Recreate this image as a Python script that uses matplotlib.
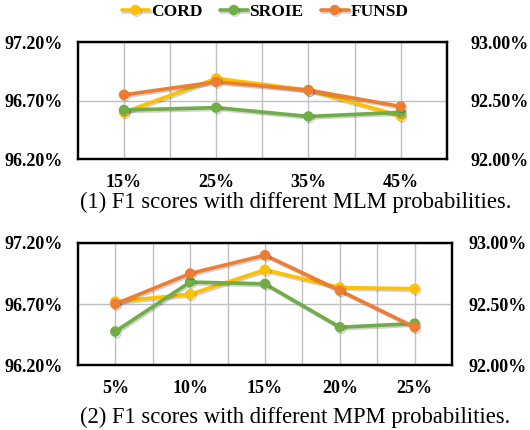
import matplotlib
matplotlib.use("Agg")
import matplotlib.pyplot as plt
import matplotlib.patheffects as pe
from matplotlib.ticker import FuncFormatter, FixedLocator

# data
mlm_labels = ["15%", "25%", "35%", "45%"]
mlm_cord = [96.60, 96.89, 96.79, 96.57]
mlm_sroie = [96.62, 96.64, 96.565, 96.60]
mlm_funsd = [92.55, 92.66, 92.59, 92.45]

mpm_labels = ["5%", "10%", "15%", "20%", "25%"]
mpm_cord = [96.72, 96.78, 96.98, 96.835, 96.825]
mpm_sroie = [96.475, 96.88, 96.865, 96.51, 96.54]
mpm_funsd = [92.50, 92.75, 92.90, 92.61, 92.31]

left_ticks = [96.2, 96.7, 97.2]
right_ticks = [92.0, 92.5, 93.0]

captions = ["(1) F1 scores with different MLM probabilities.",
            "(2) F1 scores with different MPM probabilities."]

C_CORD = "#FFC000"
C_SROIE = "#70AD47"
C_FUNSD = "#ED7D31"

plt.rcParams["font.family"] = ["Liberation Serif", "DejaVu Serif"]

fig = plt.figure(figsize=(5.3, 4.3), dpi=100)

pct = FuncFormatter(lambda v, p: "%.2f%%" % v)
shadow = [pe.SimpleLineShadow(offset=(1, -1.2), alpha=0.18), pe.Normal()]


def panel(rect, labels, cord, sroie, funsd, rpad):
    ax = fig.add_axes(rect)
    x = list(range(len(labels)))
    lstyle = dict(lw=2.6, marker="o", ms=6.5, solid_capstyle="round",
                  path_effects=shadow)
    l1, = ax.plot(x, cord, color=C_CORD, label="CORD", **lstyle)
    l2, = ax.plot(x, sroie, color=C_SROIE, label="SROIE", **lstyle)
    ax.set_xlim(-0.5, len(labels) - 0.5)
    ax.set_ylim(left_ticks[0], left_ticks[-1])
    ax.yaxis.set_major_locator(FixedLocator(left_ticks))
    ax.yaxis.set_major_formatter(pct)
    ax.set_xticks(x)
    ax.set_xticklabels(labels)
    ax.set_xticks([i + 0.5 for i in x[:-1]], minor=True)
    ax.grid(True, which="both", color="#BFBFBF", lw=1.0)
    ax.set_axisbelow(True)
    ax.tick_params(which="both", length=0)
    ax.tick_params(axis="x", pad=11, labelsize=13)
    ax.tick_params(axis="y", pad=11, labelsize=13)
    for t in ax.get_xticklabels() + ax.get_yticklabels():
        t.set_fontweight("bold")

    ax2 = ax.twinx()
    l3, = ax2.plot(x, funsd, color=C_FUNSD, label="FUNSD", **lstyle)
    ax2.set_ylim(right_ticks[0], right_ticks[-1])
    ax2.yaxis.set_major_locator(FixedLocator(right_ticks))
    ax2.yaxis.set_major_formatter(pct)
    ax2.tick_params(length=0, pad=rpad, labelsize=13)
    for t in ax2.get_yticklabels():
        t.set_fontweight("bold")
    for a in (ax, ax2):
        for s in a.spines.values():
            s.set_color("black")
            s.set_linewidth(1.6)
    return [l1, l2, l3]


handles = panel([0.147, 0.630, 0.696, 0.272], mlm_labels, mlm_cord, mlm_sroie, mlm_funsd, 17)
panel([0.147, 0.151, 0.706, 0.284], mpm_labels, mpm_cord, mpm_sroie, mpm_funsd, 12)

fig.text(0.557, 0.530, captions[0], ha="center", va="center", fontsize=16.3)
fig.text(0.557, 0.030, captions[1], ha="center", va="center", fontsize=16.3)

fig.legend(handles=handles, loc="center", bbox_to_anchor=(0.5, 0.972), ncol=3,
           frameon=False, handlelength=1.6, handletextpad=0.1, columnspacing=1.0,
           prop={"weight": "bold", "size": 12.5})

fig.savefig("out.png", dpi=100)
